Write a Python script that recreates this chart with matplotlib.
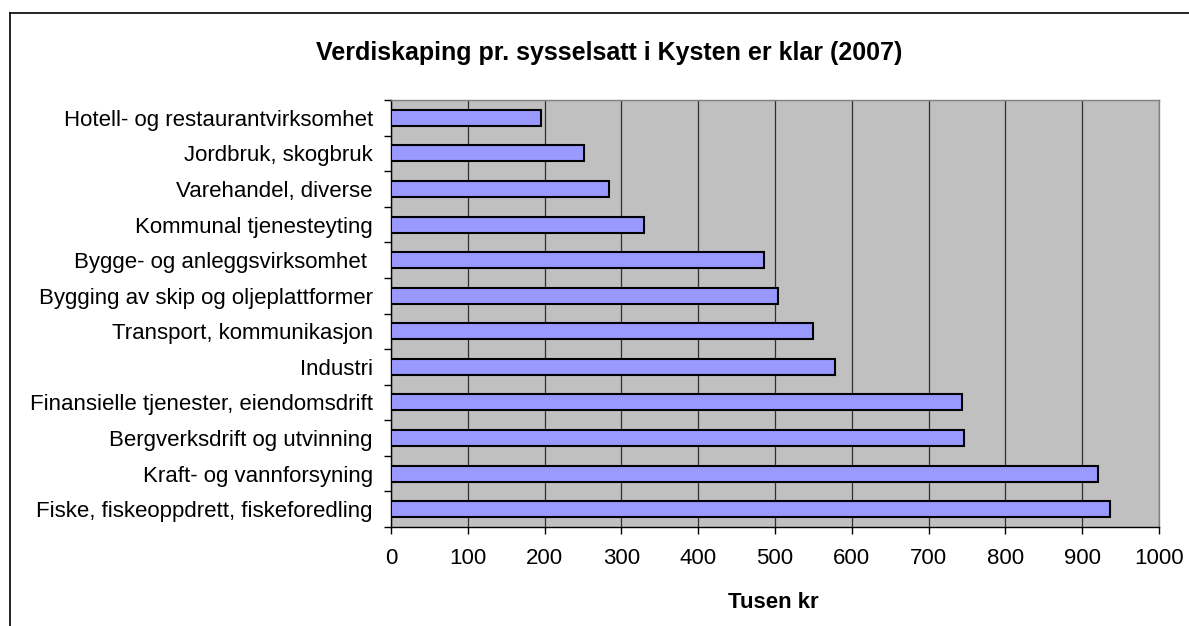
import matplotlib
matplotlib.use("Agg")
import matplotlib.pyplot as plt
from matplotlib.lines import Line2D
import numpy as np

plt.rcParams['font.family'] = ['Liberation Sans', 'DejaVu Sans']

categories = [
    "Hotell- og restaurantvirksomhet",
    "Jordbruk, skogbruk",
    "Varehandel, diverse",
    "Kommunal tjenesteyting",
    "Bygge- og anleggsvirksomhet ",
    "Bygging av skip og oljeplattformer",
    "Transport, kommunikasjon",
    "Industri",
    "Finansielle tjenester, eiendomsdrift",
    "Bergverksdrift og utvinning",
    "Kraft- og vannforsyning",
    "Fiske, fiskeoppdrett, fiskeforedling",
]
values = [195, 251, 284, 330, 486, 504, 549, 578, 743, 746, 920, 936]
xticks = [0, 100, 200, 300, 400, 500, 600, 700, 800, 900, 1000]

title = "Verdiskaping pr. sysselsatt i Kysten er klar (2007)"
xlabel = "Tusen kr"

W, H = 1189, 626
fig = plt.figure(figsize=(W / 100, H / 100), dpi=100)
fig.patch.set_facecolor("white")

# plot area in pixels
x0, x1 = 391, 1159
y0, y1 = 100, 527
ax = fig.add_axes([x0 / W, 1 - y1 / H, (x1 - x0) / W, (y1 - y0) / H])
ax.set_facecolor("#C0C0C0")

n = len(categories)
ypos = np.arange(n)
ax.barh(ypos, values, height=0.45, color="#9999FF", edgecolor="black",
        linewidth=1.5, zorder=3)
ax.set_ylim(n - 0.5, -0.5)
ax.set_xlim(0, 1000)

ax.set_xticks(xticks)
ax.set_xticklabels([str(t) for t in xticks], fontsize=16)
ax.set_yticks(ypos)
ax.set_yticklabels(categories, fontsize=16)
ax.set_yticks(np.arange(-0.5, n, 1.0), minor=True)
ax.tick_params(axis="y", which="major", length=0, pad=13)
ax.tick_params(axis="y", which="minor", length=5, width=1, direction="out")
ax.tick_params(axis="x", which="major", length=5, width=1, direction="out", pad=10)

ax.grid(axis="x", color="#303030", linewidth=0.9, zorder=1)
ax.set_axisbelow(True)

for s in ["top", "right"]:
    ax.spines[s].set_color("#808080")
    ax.spines[s].set_linewidth(1)
for s in ["left", "bottom"]:
    ax.spines[s].set_color("black")
    ax.spines[s].set_linewidth(1)

fig.text(609 / W, 1 - 53 / H, title, ha="center", va="center",
         fontsize=18, fontweight="bold")
fig.text(773 / W, 1 - 603 / H, xlabel, ha="center", va="center",
         fontsize=16, fontweight="bold")

# chart frame (extends beyond right/bottom edges)
fig.add_artist(Line2D([10 / W, 10 / W], [0, 1 - 12.5 / H], transform=fig.transFigure,
                      color="black", linewidth=1.2))
fig.add_artist(Line2D([10 / W, 1], [1 - 12.5 / H, 1 - 12.5 / H], transform=fig.transFigure,
                      color="black", linewidth=1.2))

fig.savefig("out.png", dpi=100)
